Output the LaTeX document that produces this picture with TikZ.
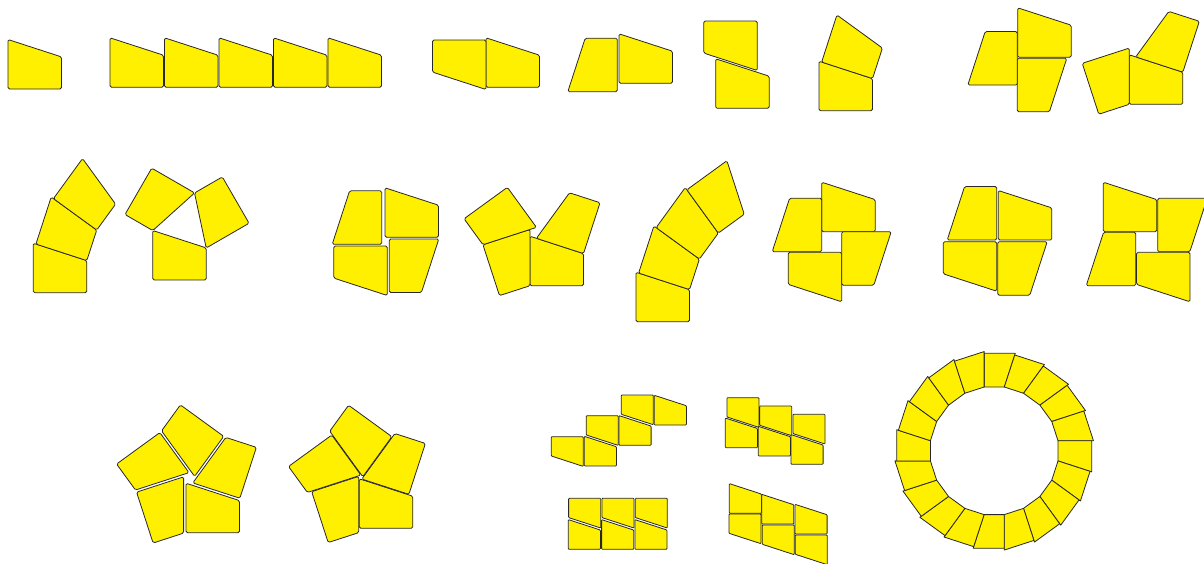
\documentclass[tikz,border=0pt]{standalone}
\usepackage{tikz}
\definecolor{tileyellow}{RGB}{255,240,0}
\definecolor{tileedge}{RGB}{40,40,40}
\newcommand\TW{53.5}
\newcommand\TA{49.5}
\newcommand\TB{32.1}
\tikzset{tilebox/.style={fill=tileyellow,draw=tileedge,line width=0.8pt,rounded corners=1.5pt,line join=round}}
% #1 name, #2 position of anchor, #3 angle, #4 scale, #5 local shift (anchor)
\newcommand\tileat[5]{\draw[tilebox,shift={#2},rotate=#3,scale=#4,shift={#5}] (0,0) coordinate (#1A) -- (\TW,0) coordinate (#1B) -- (\TW,-\TB) coordinate (#1C) -- (0,-\TA) coordinate (#1D) -- cycle;}
\newcommand\tA[4]{\tileat{#1}{#2}{#3}{#4}{(0,0)}}
\newcommand\tB[4]{\tileat{#1}{#2}{#3}{#4}{(-\TW,0)}}
\newcommand\tC[4]{\tileat{#1}{#2}{#3}{#4}{(-\TW,\TB)}}
\begin{document}
\begin{tikzpicture}[x=1pt,y=-1pt]
\useasboundingbox (0,0) rectangle (1204,563);
\clip (0,0) rectangle (1204,563);
% ---------- row 1
\tA{a}{(8,89)}{0}{1}
\foreach \k in {0,...,4}{\tA{b}{({110+54.5*\k},87.3)}{0}{1}}
\tA{ca}{(486,87.3)}{0}{1}
\tA{cb}{(486,40)}{180}{1}
\tA{da}{(619,83.3)}{0}{1}
\tA{db}{(617.3,91.7)}{90}{1}
\tA{ea}{(757.3,21)}{180}{1}
\tA{eb}{(715.7,108.3)}{0}{1}
\tA{fa}{(819,110.7)}{0}{1}
\tB{fb}{(faC)}{-18}{1}
\tA{ga}{(1017.7,57.3)}{0}{1}
\tA{gb}{(1017.3,58.3)}{-90}{1}
\tA{gc}{(1017.3,85)}{90}{1}
\tA{ha}{(1129.3,104.3)}{0}{1}
\tA{hb}{(haC)}{72}{1}
\tC{hc}{(haA)}{-72}{1}
% ---------- row 2
\tA{ia}{(33.3,292.7)}{0}{1}
\tB{ib}{(iaC)}{-18}{1}
\tB{ic}{(ibC)}{-36}{1}
\foreach \a in {0,-120,120}{
  \begin{scope}[rotate around={\a:(184.5,223.8)}]
    \tA{t}{(152.7,280)}{0}{1}
  \end{scope}}
\tA{ka}{(385,237.3)}{0}{1}
\tA{kb}{(381.7,244.3)}{90}{1}
\tA{kc}{(387.3,246)}{180}{1}
\tA{kd}{(389.3,239)}{-90}{1}
\tA{la}{(530,285.7)}{0}{1}
\tA{lb}{(laC)}{72}{1}
\tC{lc}{(laA)}{-72}{1}
\tC{ld}{(lcA)}{-144}{1}
\tA{ma}{(636,321.7)}{0}{1}
\tB{mb}{(maC)}{-18}{1}
\tB{mc}{(mbC)}{-36}{1}
\tB{md}{(mcC)}{-54}{1}
\tA{na}{(821.7,231.7)}{0}{1}
\tA{nb}{(821.7,251.7)}{90}{1}
\tA{nc}{(841.7,252.3)}{180}{1}
\tA{nd}{(841.7,231.7)}{-90}{1}
\tA{oa}{(996.7,240)}{90}{1}
\tA{ob}{(998.3,240)}{0}{1}
\tA{oc}{(996.7,241.7)}{180}{1}
\tA{od}{(997.7,241.7)}{-90}{1}
\tA{qa}{(1103.3,231.7)}{0}{1}
\tA{qb}{(1157.7,198.3)}{-90}{1}
\tA{qc}{(1135.7,285.7)}{90}{1}
\tA{qd}{(1190,252.3)}{180}{1}
% ---------- row 3: pentagons
\foreach \k in {0,...,4}{
  \pgfmathsetmacro\ang{-72*\k}
  \begin{scope}[rotate around={\ang:(189.2,478.4)}]
    \tA{p}{(186,532.7)}{0}{1}
  \end{scope}}
\foreach \k in {0,...,4}{
  \pgfmathsetmacro\ang{-72*\k}
  \begin{scope}[rotate around={\ang:(360.7,477.2)}]
    \tA{r}{(359.3,528.3)}{0}{1}
  \end{scope}}
% staircases (small tiles)
\begin{scope}[tilebox/.append style={rounded corners=0.8pt}]
\foreach \x/\y in {584.3/466, 619/445.3, 654.3/425}{\tA{s}{(\x,\y)}{0}{0.6}}
\foreach \x/\y in {583.3/436.7, 618.3/415.7, 653.3/395}{\tA{s}{(\x,\y)}{180}{0.6}}
\foreach \x/\y in {759/397.7, 791.7/406, 825/414.3}{\tA{s}{(\x,\y)}{180}{0.6}}
\foreach \x/\y in {725.3/447.7, 758.3/456, 791/464.3}{\tA{s}{(\x,\y)}{0}{0.6}}
\foreach \x/\y in {600.7/498.3, 634/498.3, 667.3/498.3}{\tA{s}{(\x,\y)}{180}{0.6}}
\foreach \x/\y in {568.3/549.3, 601.6/549.3, 634.9/549.3}{\tA{s}{(\x,\y)}{0}{0.6}}
\foreach \x/\y in {729.3/513.3, 761.7/524, 795/534}{\tA{s}{(\x,\y)}{0}{0.6}}
\foreach \x/\y in {761/514, 794.3/525, 827.3/535}{\tA{s}{(\x,\y)}{180}{0.6}}
\end{scope}
% ring
\begin{scope}[tilebox/.append style={sharp corners}]
\foreach \k in {0,...,19}{
  \pgfmathsetmacro\ang{-18*\k}
  \begin{scope}[rotate around={\ang:(994.2,450.8)}]
    \tA{w}{(984.1,353.3)}{-90}{0.63}
  \end{scope}}
\end{scope}
\end{tikzpicture}
\end{document}
